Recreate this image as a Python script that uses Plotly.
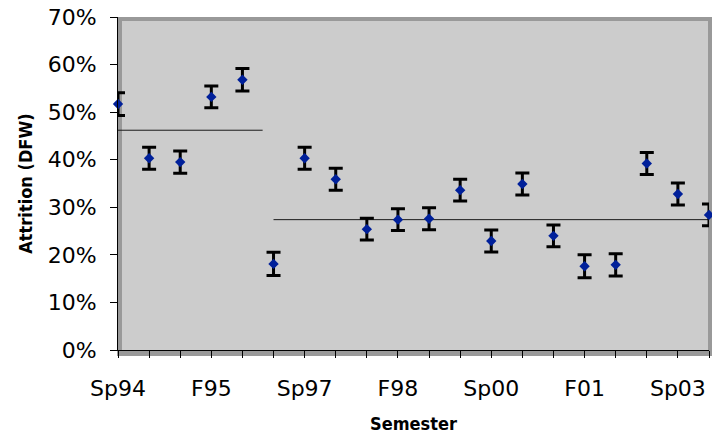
import plotly.graph_objects as go

# Semester attrition (DFW rate) with error bars and period averages
semesters = ["Sp94", "F94", "Sp95", "F95", "Sp96", "F96", "Sp97", "F97",
             "Sp98", "F98", "Sp99", "F99", "Sp00", "F00", "Sp01", "F01",
             "Sp02", "F02", "Sp03", "F03"]
attrition = [51.7, 40.3, 39.5, 53.2, 56.8, 18.1, 40.3, 35.9, 25.4, 27.4,
             27.6, 33.6, 22.9, 34.9, 24.0, 17.6, 17.9, 39.2, 32.8, 28.4]
errors = [2.4, 2.3, 2.35, 2.3, 2.35, 2.45, 2.3, 2.3, 2.3, 2.3,
          2.3, 2.3, 2.3, 2.3, 2.3, 2.4, 2.35, 2.3, 2.3, 2.3]

# Average level before and after the change (x extents in semester index)
early_x = [0, 4.65]
early_avg = [46.2, 46.2]
late_x = [5, 19]
late_avg = [27.4, 27.4]

y_ticks = [0, 10, 20, 30, 40, 50, 60, 70]
tick_every = 3

idx = list(range(len(semesters)))
tick_text = [s if i % tick_every == 0 else "" for i, s in enumerate(semesters)]

fig = go.Figure()

fig.add_trace(go.Scatter(x=early_x, y=early_avg, mode="lines",
                         line=dict(color="#1a1a1a", width=1), hoverinfo="skip"))
fig.add_trace(go.Scatter(x=late_x, y=late_avg, mode="lines",
                         line=dict(color="#1a1a1a", width=1), hoverinfo="skip"))
fig.add_trace(go.Scatter(
    x=idx, y=attrition, mode="markers",
    marker=dict(symbol="diamond", size=8, color="#00209a", line=dict(width=0)),
    error_y=dict(type="data", array=errors, visible=True,
                 color="black", thickness=3, width=7),
    cliponaxis=False,
))

W, H = 712, 442
L, R, T, B = 118, 3, 17, 92
pw, ph = W - L - R, H - T - B

# Gray frame around the plotting area
fig.add_shape(type="rect", xref="paper", yref="paper", layer="below",
              x0=-1 / pw, x1=1 + 3 / pw, y0=-6 / ph, y1=1,
              fillcolor="#999999", line=dict(width=0))
fig.add_shape(type="rect", xref="paper", yref="paper", layer="below",
              x0=4 / pw, x1=1 - 1 / pw, y0=0, y1=1 - 4 / ph,
              fillcolor="#cccccc", line=dict(width=0))

tick_font = dict(family="DejaVu Sans", size=22, color="black")
title_font = dict(family="DejaVu Sans Condensed", size=18, color="black",
                  weight="bold")

fig.update_layout(
    width=W, height=H,
    margin=dict(l=L, r=R, t=T, b=B, pad=0),
    paper_bgcolor="white",
    plot_bgcolor="rgba(0,0,0,0)",
    showlegend=False,
    xaxis=dict(
        range=[0, 19], tickvals=idx, ticktext=tick_text,
        showgrid=False, zeroline=False,
        showline=True, linecolor="black", linewidth=1,
        ticks="outside", ticklen=7, tickcolor="black", tickwidth=1,
        tickfont=tick_font, ticklabelstandoff=12,
        title=dict(text="Semester", font=title_font, standoff=16),
    ),
    yaxis=dict(
        range=[0, 70], tickvals=y_ticks,
        ticktext=[f"{v}%" for v in y_ticks],
        showgrid=False, zeroline=False,
        showline=True, linecolor="black", linewidth=1,
        ticks="outside", ticklen=7, tickcolor="black", tickwidth=1,
        tickfont=tick_font, ticklabelstandoff=9,
        title=dict(text="Attrition (DFW)", font=title_font, standoff=10),
    ),
)

fig.write_html("out.html")
